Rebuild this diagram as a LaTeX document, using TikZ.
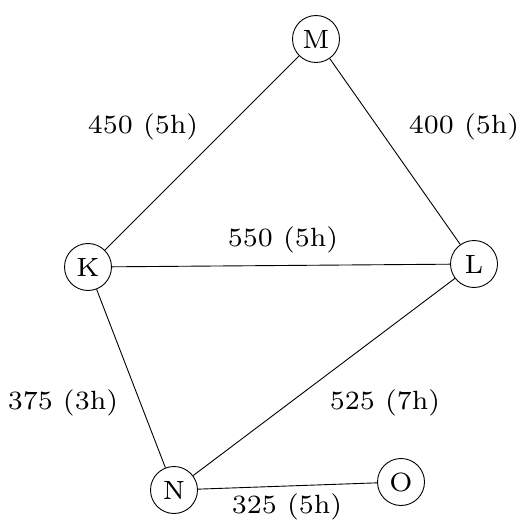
\documentclass[tikz,border=0pt]{standalone}
\usepackage{graphicx}
\newcommand{\wlabel}[1]{\scalebox{3.77}{\fontsize{7}{8}\selectfont #1}}
\begin{document}
\begin{tikzpicture}[x=1pt,y=-1pt,
  city/.style={circle,draw,line width=0.9pt,minimum size=47pt,inner sep=0pt},
  road/.style={line width=0.9pt},
  cost/.style={inner sep=0pt}]
\useasboundingbox (0,0) rectangle (525,524);
% towns
\node[city] (M) at (316,39) {\wlabel{M}};
\node[city] (L) at (474,264) {\wlabel{L}};
\node[city] (K) at (88,267) {\wlabel{K}};
\node[city] (N) at (174,490) {\wlabel{N}};
\node[city] (O) at (401,482) {\wlabel{O}};
% roads
\draw[road] (K) -- (M);
\draw[road] (M) -- (L);
\draw[road] (K) -- (L);
\draw[road] (K) -- (N);
\draw[road] (N) -- (L);
\draw[road] (N) -- (O);
% distances and travel times
\node[cost] (kmc) at (143,127) {\wlabel{450 (5h)}};
\node[cost] (mlc) at (464,127) {\wlabel{400 (5h)}};
\node[cost] (klc) at (283,240) {\wlabel{550 (5h)}};
\node[cost] (knc) at (63,403) {\wlabel{375 (3h)}};
\node[cost] (nlc) at (385,403) {\wlabel{525 (7h)}};
\node[cost] (noc) at (287,507) {\wlabel{325 (5h)}};
\end{tikzpicture}
\end{document}
